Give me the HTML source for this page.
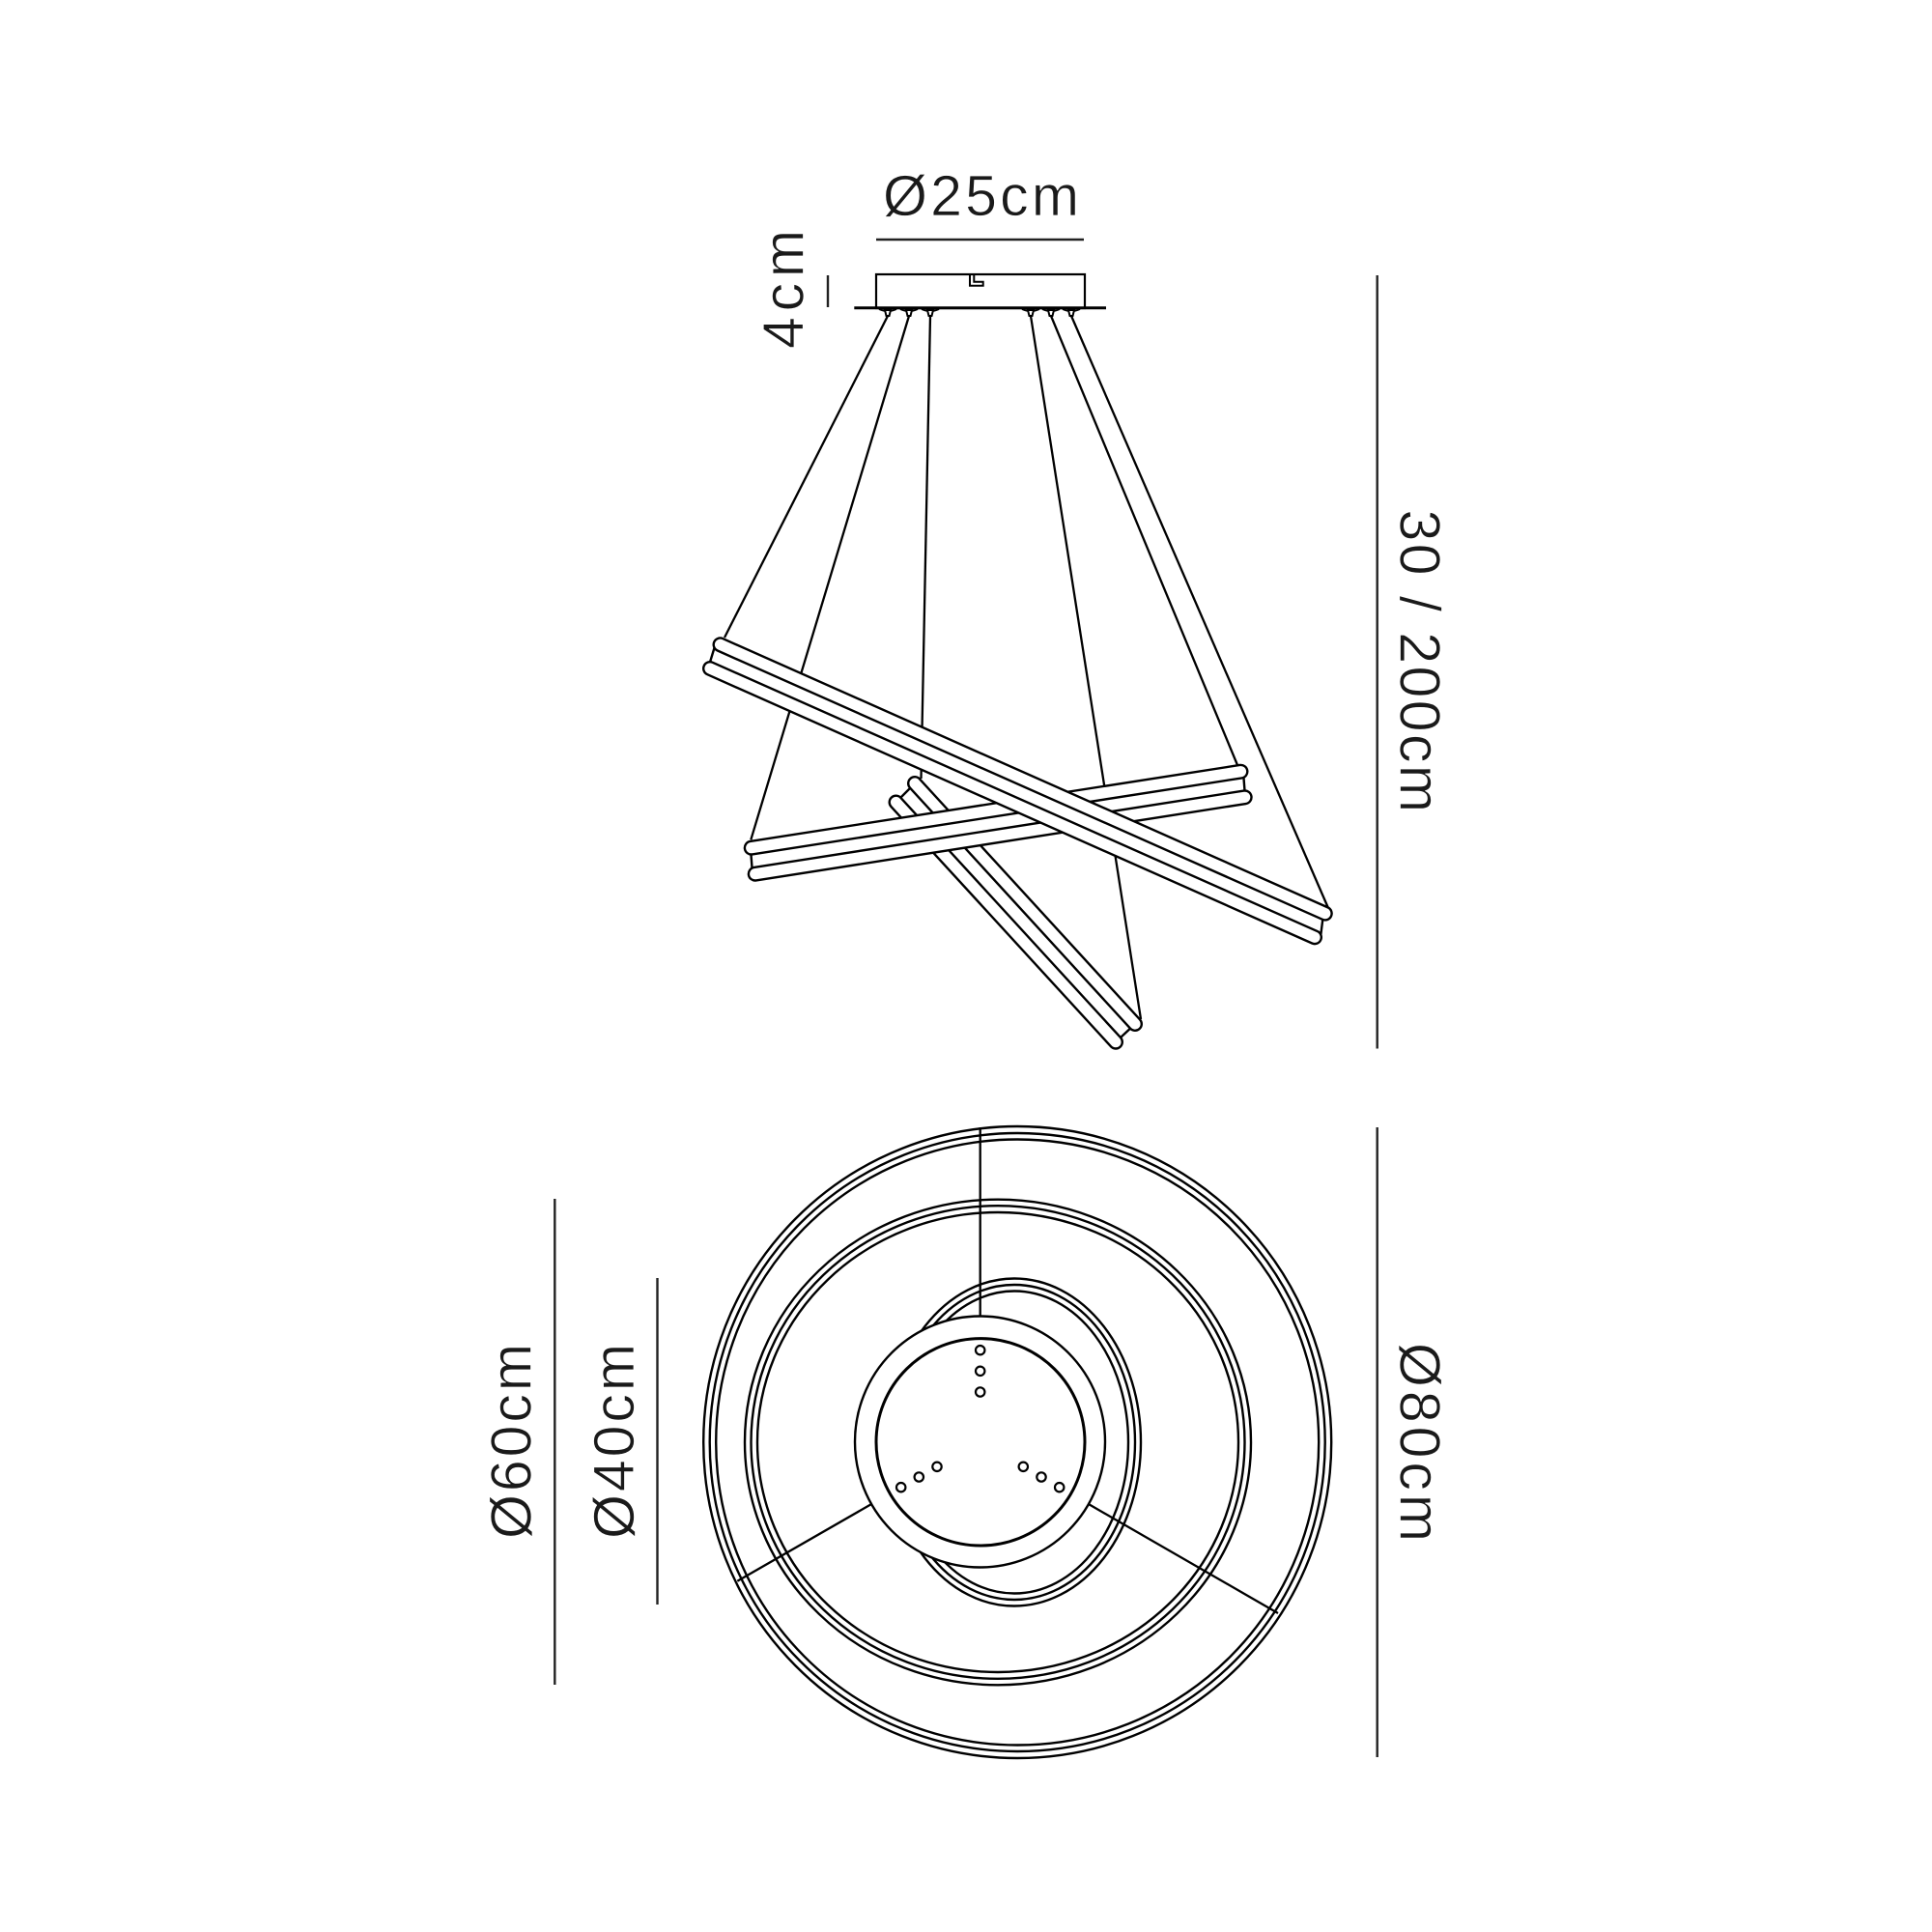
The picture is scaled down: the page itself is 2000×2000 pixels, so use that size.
<!DOCTYPE html>
<html lang="en">
<head>
<meta charset="utf-8">
<title>Pendant light dimension drawing</title>
<style>
html,body{margin:0;padding:0;background:#fff;width:2000px;height:2000px;overflow:hidden}
svg{display:block}
text{font-family:"Liberation Sans",sans-serif;font-size:59px;fill:#1a1a1a;stroke:#fff;stroke-width:0.7}
.dim{stroke:#222;stroke-width:2.4;fill:none}
.wire{stroke:#000;stroke-width:2.3;fill:none}
.ring{stroke:#000;stroke-width:2.4;fill:none}
.band{stroke:#000;stroke-width:2.4;fill:#fff}
.to{stroke:#000;stroke-linecap:round;stroke-width:16;fill:none}
.ti{stroke:#fff;stroke-linecap:round;stroke-width:11.2;fill:none}
.knob{fill:#fff;stroke:#000;stroke-width:2}
.bump{fill:none;stroke:#000;stroke-width:2}
.dot{fill:#fff;stroke:#000;stroke-width:2.2}
</style>
</head>
<body>
<svg xmlns="http://www.w3.org/2000/svg" width="2000" height="2000" viewBox="0 0 2000 2000">
<rect x="0" y="0" width="2000" height="2000" fill="#fff"/>

<!-- Dimension labels -->
<text x="914" y="223" textLength="203" lengthAdjust="spacing">Ø25cm</text>
<line class="dim" x1="907" y1="248" x2="1122" y2="248"/>
<text transform="translate(831.7 361) rotate(-90)" textLength="123" lengthAdjust="spacing">4cm</text>
<line class="dim" x1="857" y1="285" x2="857" y2="318"/>
<text transform="translate(1449.5 527.5) rotate(90)" textLength="313.5" lengthAdjust="spacing">30 / 200cm</text>
<line class="dim" x1="1425.7" y1="285" x2="1425.7" y2="1085.5"/>
<text transform="translate(1449.5 1390) rotate(90)" textLength="206" lengthAdjust="spacing">Ø80cm</text>
<line class="dim" x1="1425.7" y1="1167" x2="1425.7" y2="1819"/>
<text transform="translate(549.5 1593) rotate(-90)" textLength="202" lengthAdjust="spacing">Ø60cm</text>
<line class="dim" x1="574.3" y1="1241" x2="574.3" y2="1744"/>
<text transform="translate(656 1593) rotate(-90)" textLength="202" lengthAdjust="spacing">Ø40cm</text>
<line class="dim" x1="680.5" y1="1323" x2="680.5" y2="1661"/>

<!-- Side view: wires -->
<g>
<line class="wire" x1="919" y1="327" x2="750" y2="660"/>
<line class="wire" x1="941" y1="327" x2="777.3" y2="869.3"/>
<line class="wire" x1="963" y1="327" x2="953.5" y2="806"/>
<line class="wire" x1="1067" y1="327" x2="1181" y2="1055"/>
<line class="wire" x1="1088" y1="327" x2="1281" y2="792"/>
<line class="wire" x1="1109" y1="327" x2="1375" y2="940"/>
</g>

<!-- Canopy -->
<g>
<rect x="907" y="284" width="216" height="35" fill="#fff" stroke="#000" stroke-width="2.2"/>
<line x1="884.3" y1="318.7" x2="1145" y2="318.7" stroke="#000" stroke-width="3"/>
<path d="M1004 285V295.7H1017.7V291.7H1008.3V285" fill="none" stroke="#000" stroke-width="2"/>
<path class="bump" d="M910 320Q919 324 928 320"/>
<path class="bump" d="M932 320Q941 324 950 320"/>
<path class="bump" d="M954 320Q963 324 972 320"/>
<path class="bump" d="M1058 320Q1067 324 1076 320"/>
<path class="bump" d="M1079 320Q1088 324 1097 320"/>
<path class="bump" d="M1100 320Q1109 324 1118 320"/>
<path class="knob" d="M916 321H922L920.5 327H917.5Z"/>
<path class="knob" d="M938 321H944L942.5 327H939.5Z"/>
<path class="knob" d="M960 321H966L964.5 327H961.5Z"/>
<path class="knob" d="M1064 321H1070L1068.5 327H1065.5Z"/>
<path class="knob" d="M1085 321H1091L1089.5 327H1086.5Z"/>
<path class="knob" d="M1106 321H1112L1110.5 327H1107.5Z"/>
</g>

<!-- Side view: small ring (back) -->
<g>
<polygon class="band" points="947,811 1175,1060 1155,1078.7 927.5,830.5"/>
<line class="to" x1="927.5" y1="830.5" x2="1155" y2="1078.7"/>
<line class="ti" x1="927.5" y1="830.5" x2="1155" y2="1078.7"/>
<line class="to" x1="947" y1="811" x2="1175" y2="1060"/>
<line class="ti" x1="947" y1="811" x2="1175" y2="1060"/>
</g>

<!-- Side view: medium ring -->
<g>
<polygon class="band" points="777,878 1287,799 1289,825 779,905"/>
<line class="to" x1="781.7" y1="904.7" x2="1288.7" y2="825.3"/>
<line class="ti" x1="781.7" y1="904.7" x2="1288.7" y2="825.3"/>
<line class="to" x1="777.7" y1="877.7" x2="1284.5" y2="798.7"/>
<line class="ti" x1="777.7" y1="877.7" x2="1284.5" y2="798.7"/>
</g>

<!-- Side view: large ring (front) -->
<g>
<polygon class="band" points="740,669 1370,946 1367,970 733,692"/>
<line class="to" x1="735" y1="692" x2="1361" y2="970.3"/>
<line class="ti" x1="735" y1="692" x2="1361" y2="970.3"/>
<line class="to" x1="745.5" y1="667.3" x2="1371.8" y2="945.6"/>
<line class="ti" x1="745.5" y1="667.3" x2="1371.8" y2="945.6"/>
</g>

<!-- Plan view -->
<g>
<g>
<ellipse class="ring" cx="1053.2" cy="1493" rx="325" ry="327"/>
<ellipse class="ring" cx="1053.2" cy="1493" rx="318.5" ry="320"/>
<ellipse class="ring" cx="1053.2" cy="1493" rx="312" ry="313.5"/>
</g>
<g>
<ellipse class="ring" cx="1033" cy="1493" rx="262" ry="251.3"/>
<ellipse class="ring" cx="1033" cy="1493" rx="255.5" ry="244.8"/>
<ellipse class="ring" cx="1033" cy="1493" rx="249" ry="238"/>
</g>
<g>
<ellipse class="ring" cx="1050" cy="1493" rx="131" ry="169.5"/>
<ellipse class="ring" cx="1050" cy="1493" rx="125" ry="163"/>
<ellipse class="ring" cx="1050" cy="1493" rx="118" ry="156.5"/>
</g>
<line class="wire" x1="1014.7" y1="1167" x2="1014.7" y2="1364"/>
<line class="wire" x1="901.7" y1="1557.3" x2="763.3" y2="1636.7"/>
<line class="wire" x1="1127.3" y1="1557.3" x2="1323" y2="1670"/>
<ellipse cx="1014.5" cy="1492.5" rx="129.5" ry="130" fill="#fff" stroke="#000" stroke-width="2.4"/>
<ellipse cx="1015" cy="1492.8" rx="108" ry="107.2" fill="#fff" stroke="#000" stroke-width="3"/>
<circle class="dot" cx="1014.7" cy="1397.7" r="4.7"/>
<circle class="dot" cx="1014.7" cy="1419.3" r="4.7"/>
<circle class="dot" cx="1014.7" cy="1441" r="4.7"/>
<circle class="dot" cx="970" cy="1518.3" r="4.7"/>
<circle class="dot" cx="951.3" cy="1529" r="4.7"/>
<circle class="dot" cx="932.7" cy="1539.7" r="4.7"/>
<circle class="dot" cx="1059.3" cy="1518.3" r="4.7"/>
<circle class="dot" cx="1078" cy="1529" r="4.7"/>
<circle class="dot" cx="1096.7" cy="1539.7" r="4.7"/>
</g>
</svg>
</body>
</html>
